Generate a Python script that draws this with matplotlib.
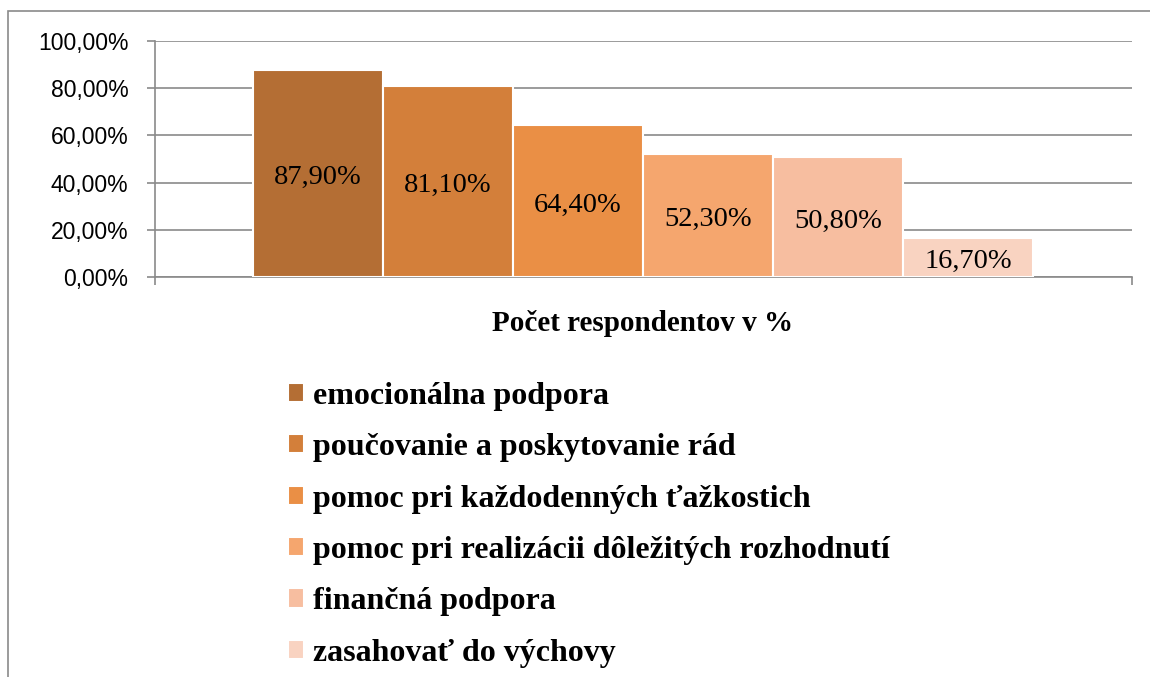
import matplotlib.pyplot as plt
from matplotlib.patches import Rectangle

categories = ['emocionálna podpora', 'poučovanie a poskytovanie rád',
              'pomoc pri každodenných ťažkostich',
              'pomoc pri realizácii dôležitých rozhodnutí',
              'finančná podpora', 'zasahovať do výchovy']
values = [87.9, 81.1, 64.4, 52.3, 50.8, 16.7]
colors = ['#B46E34', '#D37F3A', '#EA8F45', '#F5A66E', '#F7BEA0', '#F9D3C1']
y_ticks = [0, 20, 40, 60, 80, 100]
x_title = 'Počet respondentov v %'

fig = plt.figure(figsize=(11.5, 6.77), dpi=100)

# outer chart frame
fig.patches.append(Rectangle((8 / 1150, -0.05), 1.2, 1 - 11 / 677 + 0.05,
                             transform=fig.transFigure, fill=False,
                             edgecolor='#8a8a8a', linewidth=1.2))

ax = fig.add_axes([155 / 1150, 1 - 277 / 677, 977 / 1150, 236 / 677])

width = 130 / 977
start = (253 - 155) / 977
xs = [start + width * (i + 0.5) for i in range(len(values))]
bars = ax.bar(xs, values, width=width, color=colors, edgecolor='white',
              linewidth=1.5, label=categories, zorder=3)
ax.bar_label(bars, labels=[f'{v:.2f}%'.replace('.', ',') for v in values],
             label_type='center', fontsize=20.5, family='Liberation Serif',
             padding=-3)

ax.set_xlim(0, 1)
ax.set_ylim(0, 100)
ax.set_yticks(y_ticks)
ax.set_yticklabels([f'{v:.2f}%'.replace('.', ',') for v in y_ticks],
                   fontsize=16.5, family='Liberation Sans')
ax.set_xticks([0, 1])
ax.set_xticklabels([])
ax.tick_params(axis='both', color='#8a8a8a', length=6, width=1.2)
ax.tick_params(axis='y', pad=13)
ax.yaxis.grid(True, color='#8a8a8a', linewidth=1.2, zorder=0)
ax.set_axisbelow(True)
for s in ['top', 'right']:
    ax.spines[s].set_visible(False)
for s in ['left', 'bottom']:
    ax.spines[s].set_color('#8a8a8a')
    ax.spines[s].set_linewidth(1.2)

fig.text(643 / 1150, 1 - 324 / 677, x_title, ha='center', va='center',
         fontsize=21, fontweight='bold', family='Liberation Serif')

fig.legend(handles=bars, labels=categories, loc='upper left',
           bbox_to_anchor=(275 / 1150, 1 - 369 / 677), frameon=False,
           prop={'family': 'Liberation Serif', 'weight': 'bold', 'size': 23},
           handlelength=0.5, handleheight=0.55, handletextpad=0.3,
           labelspacing=0.7, borderaxespad=0)

fig.savefig('out.png', dpi=100)
